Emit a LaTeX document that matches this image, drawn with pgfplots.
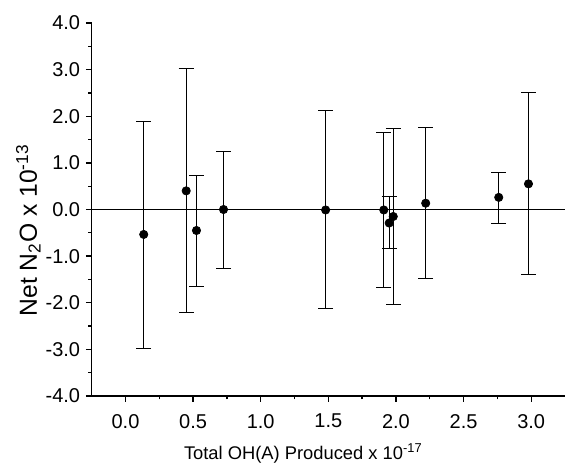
\documentclass[border=0pt]{standalone}
\usepackage{fontspec}
\setmainfont{Liberation Sans}
\usepackage{pgfplots}
\pgfplotsset{compat=1.18}

\pgfplotstableread{
x     y      ep     em
0.135 -0.535 2.425  2.435
0.449  0.40  2.62   2.60
0.525 -0.45  1.18   1.19
0.725  0.00  1.24   1.26
1.48  -0.01  2.13   2.12
1.91  -0.01  1.67   1.67
1.95  -0.29  0.57   0.55
1.98  -0.15  1.88   1.88
2.22   0.135 1.615  1.615
2.76   0.26  0.54   0.55
2.98   0.55  1.96   1.95
}\datatable

\begin{document}
\begin{tikzpicture}
\useasboundingbox (-55pt,-39.8pt) rectangle (284pt,237.6pt);
\begin{axis}[
    at={(0,0)}, anchor=south west,
    scale only axis,
    width=284pt, height=223.8pt,
    xmin=-0.25, xmax=3.25,
    ymin=-4, ymax=4,
    axis lines*=left,
    axis line style={line width=0.9pt},
    tick align=outside,
    major tick length=3.4pt,
    minor tick length=2pt,
    every tick/.style={black, line width=0.8pt},
    xtick={0,0.5,...,3},
    ytick={-4,-3,...,4},
    minor x tick num=1,
    minor y tick num=1,
    /pgf/number format/assume math mode=true,
    xticklabel style={yshift=-4pt, /pgf/number format/.cd, fixed, fixed zerofill, precision=1},
    yticklabel style={/pgf/number format/.cd, fixed, fixed zerofill, precision=1},
    tick label style={font=\fontsize{12}{14}\selectfont},
    xlabel={Total OH(A) Produced x 10\textsuperscript{-17}},
    ylabel={Net N\textsubscript{2}O x 10\textsuperscript{-13}},
    xlabel style={font=\fontsize{11}{13}\selectfont,
        at={(axis description cs:0.447,-0.17)}, anchor=base},
    ylabel style={font=\fontsize{14.8}{16}\selectfont,
        at={(axis description cs:-0.1156,0.444)}, anchor=base, rotate=0},
    clip=false,
]
\addplot[black, line width=1pt] coordinates {(-0.25,0) (3.25,0)};
\addplot[
    only marks, mark=*, mark size=2.5pt, black,
    error bars/.cd,
        y dir=both, y explicit,
        error bar style={line width=0.5pt, black},
        error mark options={rotate=90, mark size=4.5pt, line width=0.5pt},
] table[x=x, y=y, y error plus=ep, y error minus=em] {\datatable};
\end{axis}
\end{tikzpicture}
\end{document}
